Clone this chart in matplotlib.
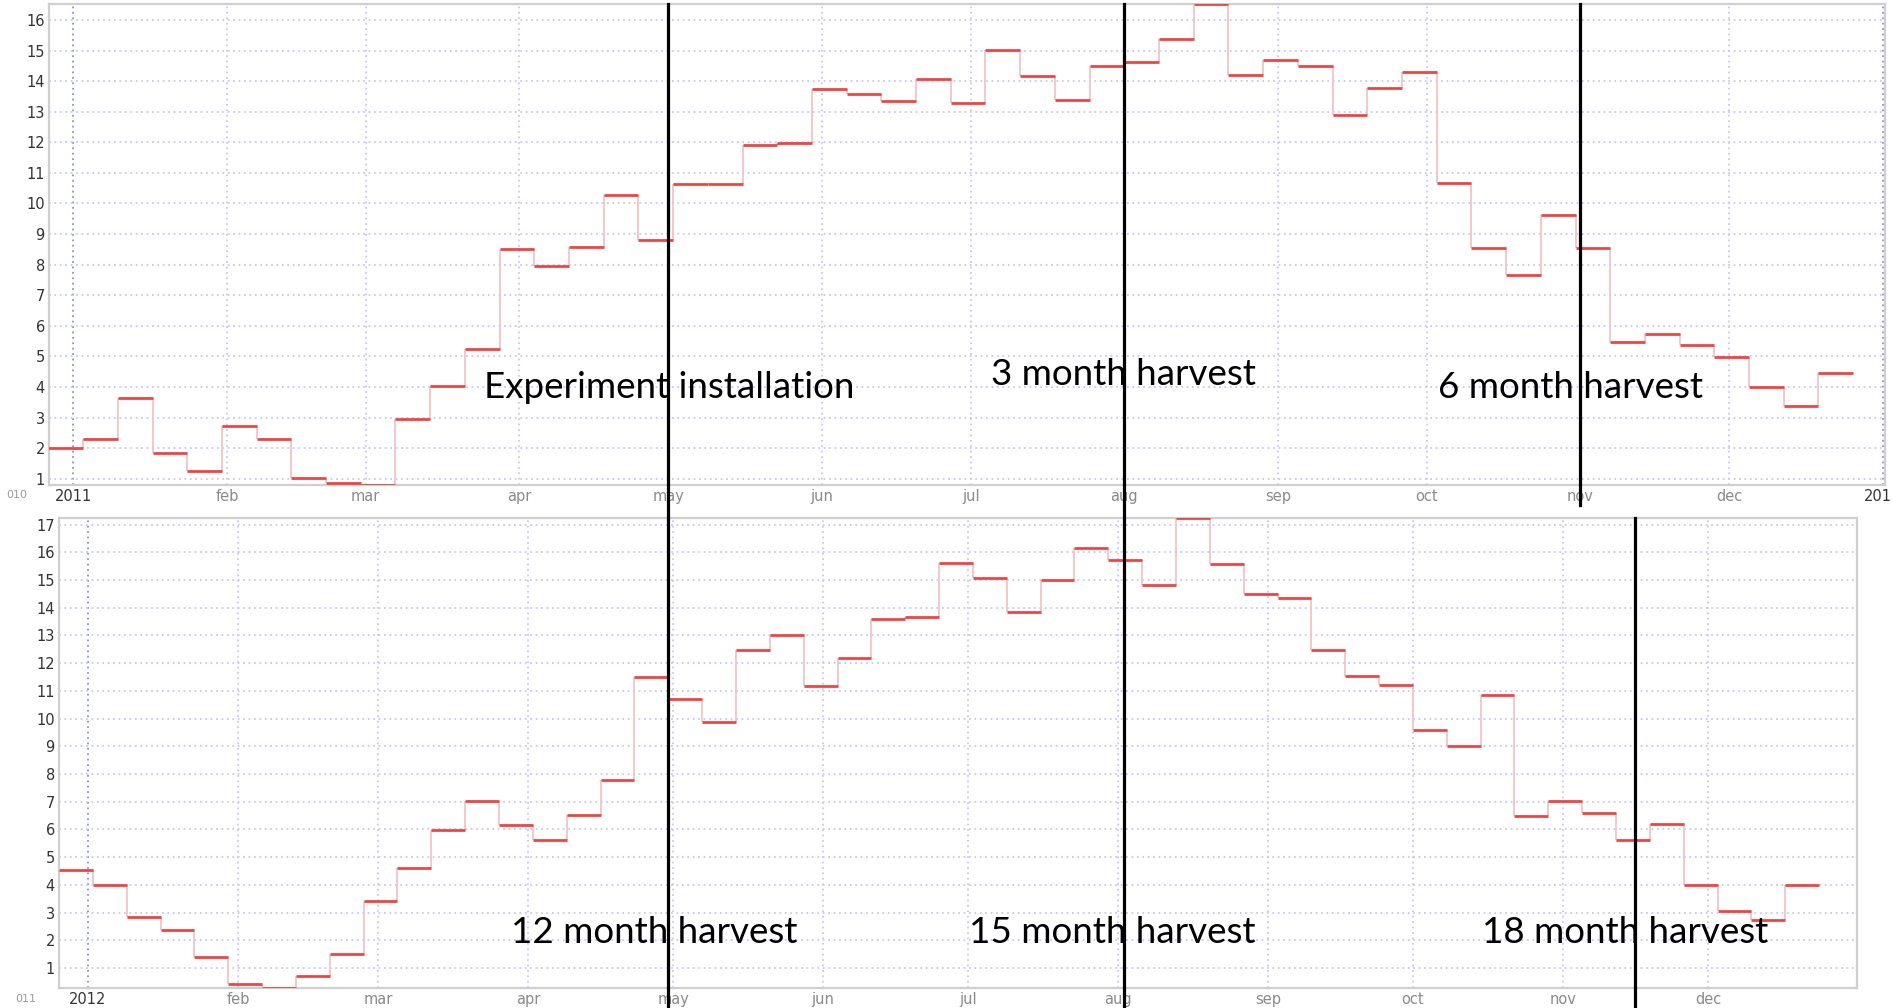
import numpy as np
import pandas as pd
import matplotlib
matplotlib.use("Agg")
import matplotlib.pyplot as plt
import matplotlib.dates as mdates
from matplotlib.transforms import blended_transform_factory
from datetime import datetime

# weekly values (weeks start on monday)
start_2011 = "2010-12-27"
vals_2011 = [2.0, 2.3, 3.64, 1.85, 1.27, 2.73, 2.3, 1.02, 0.86, 0.80,
             2.97, 4.04, 5.24, 8.51, 7.97, 8.59, 10.28, 8.80, 10.65, 10.65,
             11.90, 11.98, 13.75, 13.59, 13.34, 14.08, 13.29, 15.02, 14.16, 13.39,
             14.49, 14.62, 15.36, 16.52, 14.2, 14.70, 14.49, 12.88, 13.79, 14.30,
             10.66, 8.54, 7.67, 9.62, 8.54, 5.46, 5.74, 5.36, 4.99, 4.0,
             3.38, 4.45]

start_2012 = "2011-12-26"
vals_2012 = [4.53, 3.98, 2.84, 2.38, 1.40, 0.42, 0.28, 0.72, 1.49, 3.41,
             4.61, 5.99, 7.02, 6.17, 5.63, 6.54, 7.78, 11.52, 10.71, 9.88,
             12.46, 13.03, 11.17, 12.19, 13.58, 13.67, 15.60, 15.09, 13.85, 15.01,
             16.16, 15.72, 14.83, 17.24, 15.58, 14.48, 14.35, 12.47, 11.53, 11.22,
             9.58, 9.03, 10.87, 6.48, 7.02, 6.59, 5.63, 6.19, 3.98, 3.05,
             2.74, 3.98]

month_names = ["", "feb", "mar", "apr", "may", "jun", "jul", "aug", "sep", "oct", "nov", "dec"]

# harvest markers
top_events = [("Experiment installation", "2011-05-01"),
              ("3 month harvest", "2011-08-01"),
              ("6 month harvest", "2011-11-01")]
bottom_events = [("12 month harvest", "2012-05-01"),
                 ("15 month harvest", "2012-08-01"),
                 ("18 month harvest", "2012-11-16")]

W, H = 1892, 1008
fig = plt.figure(figsize=(W / 100, H / 100), dpi=100)

RED = "#f04444"
PINK = "#f2c4c4"
GRID = "#c9c9f5"
YEARGRID = "#8f8fe6"


def draw_panel(ax, start, vals, xlim, year):
    weeks = pd.date_range(start, periods=len(vals) + 1, freq="7D")
    v = np.array(vals)
    # risers first, light pink
    ax.vlines(weeks[1:-1], v[:-1], v[1:], color=PINK, lw=1.3, zorder=3)
    ax.hlines(v, weeks[:-1], weeks[1:], color=RED, lw=2.0, zorder=4)
    ax.set_xlim(*xlim)
    ax.set_ylim(v.min(), v.max())
    ax.set_yticks(range(1, int(v.max()) + 1))
    months = pd.date_range(f"{year}-01-01", f"{year + 1}-01-01", freq="MS")
    months = [m for m in months if xlim[0] <= m <= xlim[1]]
    ax.set_xticks(months)
    labels = [str(m.year) if m.month == 1 else month_names[m.month - 1] for m in months]
    ax.set_xticklabels(labels)
    for m, lab in zip(months, ax.get_xticklabels()):
        lab.set_color("#333333" if m.month == 1 else "#8a8a8a")
        ax.axvline(m, color=YEARGRID if m.month == 1 else GRID, lw=1.3,
                   ls=(0, (1, 2)), zorder=1)
    for y in ax.get_yticks():
        ax.axhline(y, color=GRID, lw=1.3, ls=(0, (1, 2)), zorder=1)
    ax.tick_params(length=0, labelsize=10.5, pad=3)
    ax.tick_params(axis="y", labelcolor="#333333")
    for s in ax.spines.values():
        s.set_color("#cfcfcf")
        s.set_linewidth(1.6)


ax1 = fig.add_axes([49 / W, 1 - 485 / H, (1885 - 49) / W, (485 - 4) / H])
draw_panel(ax1, start_2011, vals_2011,
           (datetime(2010, 12, 27, 3), datetime(2012, 1, 1, 10)), 2011)

ax2 = fig.add_axes([59 / W, 1 - 988 / H, (1857 - 59) / W, (988 - 518) / H])
draw_panel(ax2, start_2012, vals_2012,
           (datetime(2011, 12, 26), datetime(2012, 12, 31, 20)), 2012)

# black annotation lines
t1 = blended_transform_factory(ax1.transData, fig.transFigure)
t2 = blended_transform_factory(ax2.transData, fig.transFigure)
for i, (name, d) in enumerate(top_events):
    x = mdates.date2num(pd.Timestamp(d))
    y0 = 0.0 if i < 2 else 1 - 505 / H
    fig.add_artist(plt.Line2D([x, x], [y0, 1 - 4 / H], transform=t1,
                              color="black", lw=2.3, zorder=10))
x = mdates.date2num(pd.Timestamp(bottom_events[2][1]))
fig.add_artist(plt.Line2D([x, x], [0.0, 1 - 518 / H], transform=t2,
                          color="black", lw=2.3, zorder=10))

# annotation texts
label_pos = [(669, 398), (1123, 385), (1570, 398),
             (654, 943), (1112, 943), (1625, 943)]
for (name, d), (px, py) in zip(top_events + bottom_events, label_pos):
    fig.text(px / W, 1 - py / H, name, ha="center", va="baseline",
             fontsize=26.5, family=["Lato", "DejaVu Sans"], color="black", zorder=11)

# leftover labels from the original screenshot
fig.text(17 / W, 1 - 495 / H, "010", ha="center", va="center", fontsize=8, color="#9a9a9a")
fig.text(26 / W, 1 - 999 / H, "011", ha="center", va="center", fontsize=8, color="#9a9a9a")

fig.savefig("out.png", dpi=100)
